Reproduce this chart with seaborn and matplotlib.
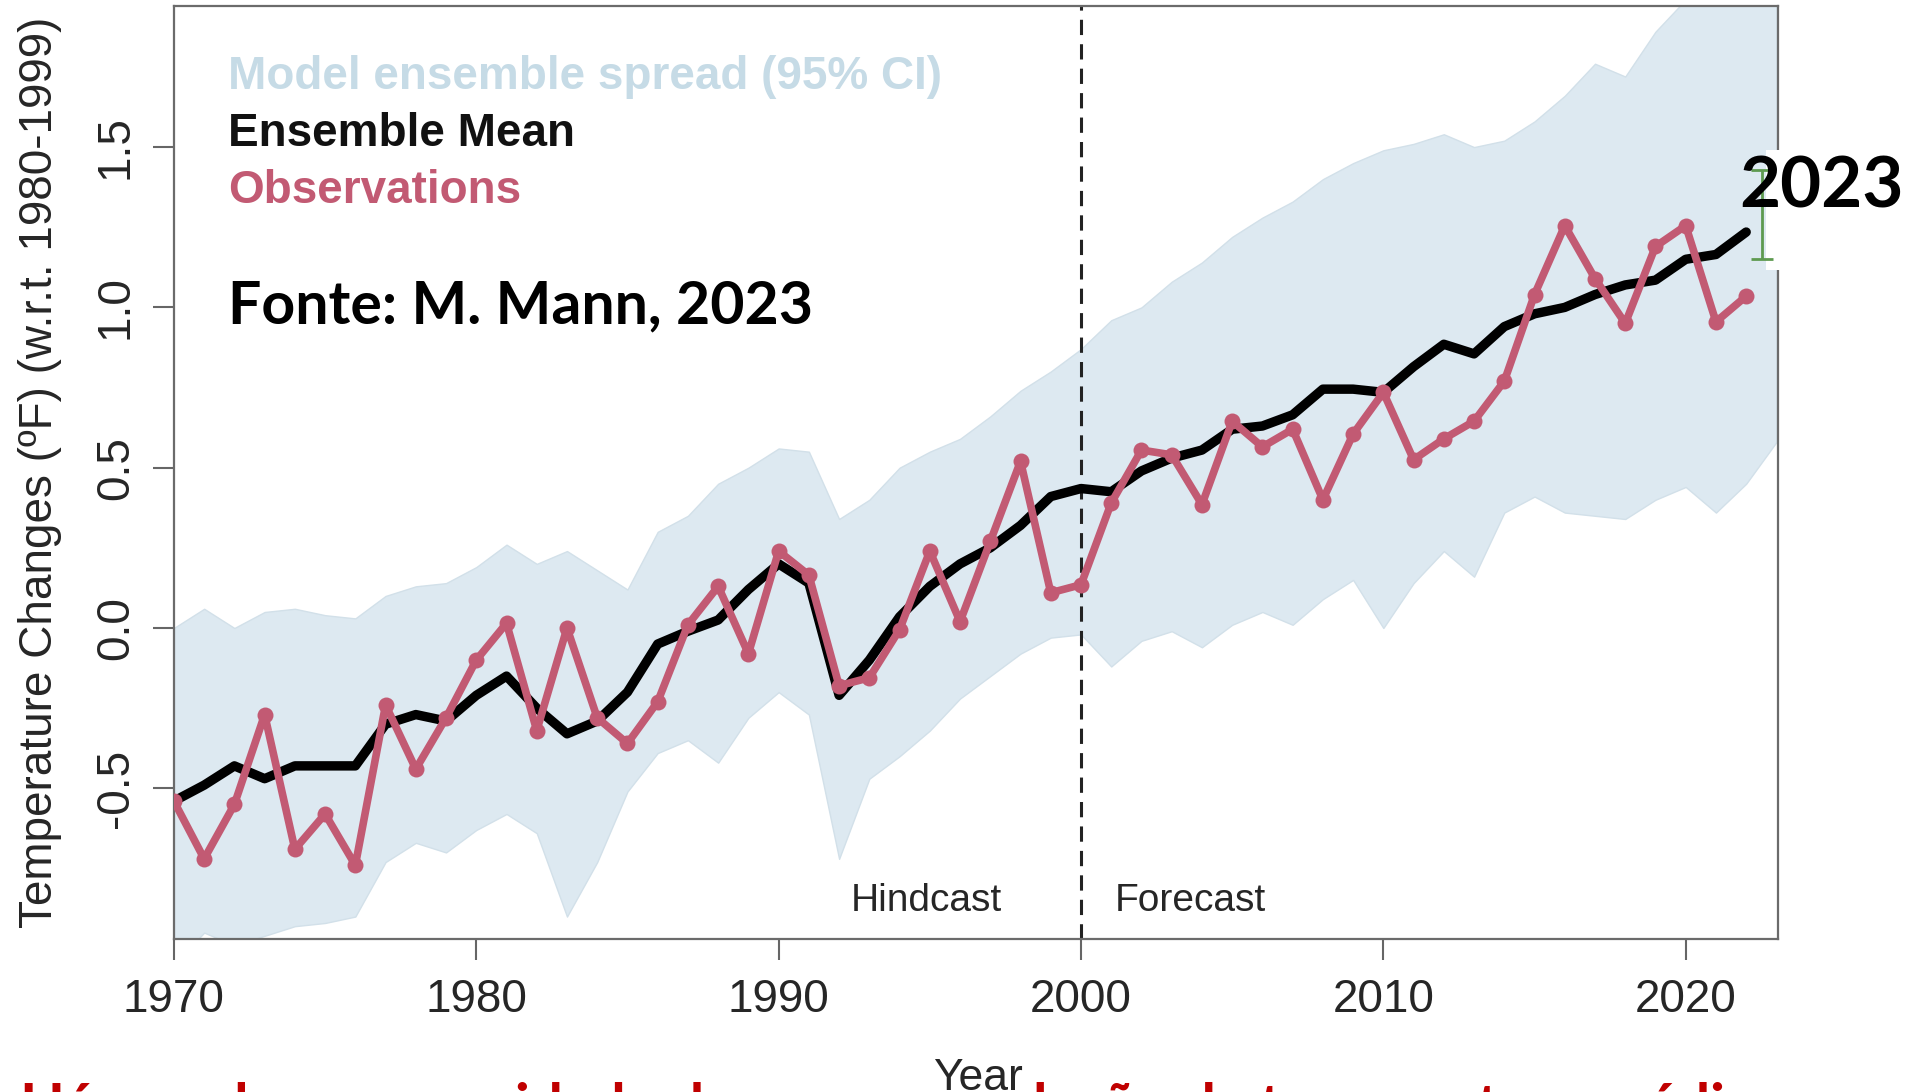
import numpy as np
import pandas as pd
import seaborn as sns
from matplotlib import pyplot as plt
from matplotlib.patches import Rectangle

# Years for the two series, the model spread runs one year further
years = list(range(1970, 2023))
band_years = list(range(1970, 2024))

ensemble_mean = [-0.54, -0.49, -0.43, -0.47, -0.43, -0.43, -0.43, -0.30, -0.27, -0.29,
                 -0.21, -0.15, -0.25, -0.33, -0.29, -0.20, -0.05, -0.01, 0.025, 0.12,
                 0.20, 0.14, -0.21, -0.10, 0.035, 0.13, 0.20, 0.25, 0.32, 0.41,
                 0.435, 0.425, 0.49, 0.53, 0.555, 0.62, 0.63, 0.665, 0.745, 0.745,
                 0.735, 0.815, 0.885, 0.855, 0.94, 0.98, 1.00, 1.04, 1.07, 1.085,
                 1.15, 1.165, 1.235]

observations = [-0.54, -0.72, -0.55, -0.27, -0.69, -0.58, -0.74, -0.24, -0.44, -0.28,
                -0.10, 0.015, -0.32, 0.00, -0.28, -0.36, -0.23, 0.01, 0.13, -0.08,
                0.24, 0.165, -0.18, -0.155, -0.005, 0.24, 0.02, 0.27, 0.52, 0.11,
                0.135, 0.39, 0.555, 0.54, 0.385, 0.645, 0.565, 0.62, 0.40, 0.605,
                0.735, 0.525, 0.59, 0.645, 0.77, 1.04, 1.255, 1.09, 0.95, 1.19,
                1.255, 0.955, 1.035]

band_upper = [0.00, 0.06, 0.00, 0.05, 0.06, 0.04, 0.03, 0.10, 0.13, 0.14,
              0.19, 0.26, 0.20, 0.24, 0.18, 0.12, 0.30, 0.35, 0.45, 0.50,
              0.56, 0.55, 0.34, 0.40, 0.50, 0.55, 0.59, 0.66, 0.74, 0.80,
              0.87, 0.96, 1.00, 1.08, 1.14, 1.22, 1.28, 1.33, 1.40, 1.45,
              1.49, 1.51, 1.54, 1.50, 1.52, 1.58, 1.66, 1.76, 1.72, 1.86,
              1.96, 2.05, 2.12, 2.20]

band_lower = [-1.05, -0.95, -0.99, -0.96, -0.93, -0.92, -0.90, -0.73, -0.67, -0.70,
              -0.63, -0.58, -0.64, -0.90, -0.73, -0.51, -0.39, -0.35, -0.42, -0.28,
              -0.20, -0.27, -0.72, -0.47, -0.40, -0.32, -0.22, -0.15, -0.08, -0.03,
              -0.02, -0.12, -0.04, -0.01, -0.06, 0.01, 0.05, 0.01, 0.09, 0.15,
              0.00, 0.14, 0.24, 0.16, 0.36, 0.41, 0.36, 0.35, 0.34, 0.40,
              0.44, 0.36, 0.45, 0.58]

x_ticks = [1970, 1980, 1990, 2000, 2010, 2020]
y_ticks = [-0.5, 0.0, 0.5, 1.0, 1.5]

sns.set_style('ticks')
plt.rcParams['font.family'] = ['Liberation Sans', 'DejaVu Sans']

fig = plt.figure(figsize=(19.05, 10.92), dpi=100)
ax = fig.add_axes([0.0913, 0.1401, 0.842, 0.8544])

# model spread and hindcast/forecast split
ax.fill_between(band_years, band_lower, band_upper, color='#dde9f1',
                edgecolor='#d2e0e9', lw=1, zorder=1)
ax.axvline(2000, color='#222222', lw=2.2, ls=(0, (5, 3)), zorder=2)

df = pd.DataFrame({'Year': years, 'mean': ensemble_mean, 'obs': observations})
sns.lineplot(data=df, x='Year', y='mean', color='black', lw=6.8, ax=ax, zorder=3)
sns.lineplot(data=df, x='Year', y='obs', color='#c25a73', lw=5.5, marker='o',
             markersize=11.5, markeredgewidth=0, ax=ax, zorder=4)

ax.set_xlim(1970, 2023.05)
ax.set_ylim(-0.97, 1.94)
ax.set_xticks(x_ticks)
ax.set_xticklabels([str(t) for t in x_ticks])
ax.set_yticks(y_ticks)
ax.set_yticklabels(['%.1f' % t for t in y_ticks], rotation=90, va='center')
ax.tick_params(length=15, width=1.5, color='#666666', labelsize=33,
               labelcolor='#262626')
ax.tick_params(axis='x', pad=13)
ax.tick_params(axis='y', pad=11)
for s in ax.spines.values():
    s.set_color('#6b6b6b')
    s.set_linewidth(1.6)

ax.set_ylabel('Temperature Changes (ºF) (w.r.t. 1980-1999)', fontsize=33,
              color='#262626')
ax.yaxis.set_label_coords(-0.070, 0.5)
ax.set_xlabel('Year', fontsize=32, color='#262626')
ax.xaxis.set_label_coords(0.5012, -0.128)
ax.xaxis.label.set_bbox(dict(facecolor='white', edgecolor='none', pad=4))
ax.xaxis.label.set_zorder(10)

ax.text(1997.4, -0.852, 'Hindcast', fontsize=28, ha='right', va='center',
        color='#262626', zorder=5)
ax.text(2001.1, -0.852, 'Forecast', fontsize=28, ha='left', va='center',
        color='#262626', zorder=5)

# legend written as coloured text
ax.text(0.0337, 0.9244, 'Model ensemble spread (95% CI)', transform=ax.transAxes,
        fontsize=33, fontweight='bold', color='#c6dbe6', va='center')
ax.text(0.0337, 0.8631, 'Ensemble Mean', transform=ax.transAxes,
        fontsize=33, fontweight='bold', color='#111111', va='center')
ax.text(0.0337, 0.8019, 'Observations', transform=ax.transAxes,
        fontsize=33, fontweight='bold', color='#c25a73', va='center')

ax.text(0.0337, 0.6785, 'Fonte: M. Mann, 2023', transform=ax.transAxes,
        fontsize=42.5, fontweight='bold', color='black', va='center',
        family=['Lato', 'DejaVu Sans'])

# 2023 note with its white box and the green gap bar
ax.add_patch(Rectangle((0.9925, 0.717), 0.09, 0.129, transform=ax.transAxes,
                       facecolor='white', edgecolor='none', clip_on=False, zorder=6))
ax.errorbar([2022.53], [1.29], yerr=[0.14], color='#5e9a50', lw=2, capsize=8,
            capthick=2, clip_on=False, zorder=7)
ax.text(1.0274, 0.806, '2023', transform=ax.transAxes, fontsize=51,
        fontweight='bold', ha='center', va='center', color='black',
        family=['Lato', 'DejaVu Sans'], zorder=8, clip_on=False)

fig.text(0.0105, -0.030, 'Há uma boa acuracidade de nossa simulação da temperatura média',
         fontsize=42, fontweight='bold', color='#c00000', va='baseline',
         family=['Lato', 'DejaVu Sans'], zorder=-1)

fig.savefig('out.png', dpi=100)
